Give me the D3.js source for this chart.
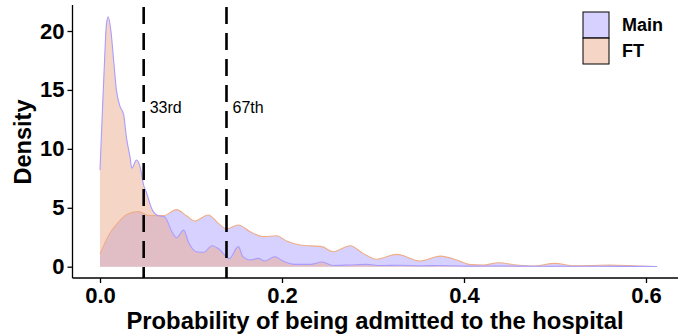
<!DOCTYPE html>
<html>
<head>
<meta charset="utf-8">
<script src="https://cdn.jsdelivr.net/npm/d3@7"></script>
<style>
  body { margin: 0; background: #fff; }
  svg text { font-family: "Liberation Sans", Arial, Helvetica, sans-serif; }
</style>
</head>
<body>
<svg id="density-chart" width="678" height="335"></svg>
<script>
    // density curves (x = probability, y = density)
    let ftX = [0, 0.002, 0.005, 0.007, 0.009, 0.012, 0.015, 0.018, 0.022, 0.026, 0.029, 0.033, 0.035, 0.040,
        0.044, 0.048, 0.051, 0.057, 0.064, 0.071, 0.079, 0.084, 0.092, 0.097, 0.106, 0.114, 0.123, 0.132,
        0.142, 0.152, 0.157, 0.165, 0.174, 0.181, 0.192, 0.201, 0.214, 0.231, 0.244, 0.256, 0.275, 0.293,
        0.308, 0.330, 0.352, 0.374, 0.407, 0.440, 0.484, 0.527, 0.571, 0.612]
    let ftY = [8.2, 12.0, 17.5, 20.5, 21.2, 20.0, 17.5, 15.0, 13.6, 12.9, 11.0, 9.3, 8.35, 9.06,
        8.5, 6.9, 6.3, 4.9, 4.33, 4.24, 2.97, 2.46, 3.1, 2.12, 1.27, 1.22, 1.78, 1.42,
        0.68, 1.7, 0.85, 0.57, 0.71, 0.48, 0.85, 0.48, 0.2, 0.2, 0.4, 0.1, 0.15, 0.2,
        0.1, 0.12, 0.08, 0.1, 0.05, 0.06, 0.04, 0.04, 0.03, 0.02]

    let mainX = [0, 0.011, 0.020, 0.029, 0.042, 0.055, 0.070, 0.084, 0.095, 0.104, 0.119, 0.130, 0.139,
        0.152, 0.165, 0.179, 0.194, 0.205, 0.220, 0.244, 0.256, 0.275, 0.289, 0.304, 0.326, 0.352, 0.374,
        0.392, 0.407, 0.421, 0.438, 0.458, 0.476, 0.500, 0.520, 0.541, 0.560, 0.590, 0.612]
    let mainY = [1.08, 2.86, 3.75, 4.4, 4.67, 4.33, 4.33, 4.84, 4.33, 3.88, 4.39, 3.68, 3.2,
        3.54, 2.97, 2.55, 2.63, 2.18, 1.84, 1.7, 1.27, 1.78, 1.13, 0.63, 1.05, 0.48, 0.9,
        0.57, 0.18, 0.14, 0.34, 0.14, 0.06, 0.28, 0.08, 0.1, 0.14, 0.06, 0.02]

    let percentiles = [0.048, 0.139]
    let percentileLabels = ["33rd", "67th"]
    let legendLabels = ["Main", "FT"]
    let xTicks = [0, 0.2, 0.4, 0.6]
    let yTicks = [0, 5, 10, 15, 20]

    let svg = d3.select("#density-chart")
    let width = 678
    let panel = { left: 72.5, top: 5, bottom: 278 }

    let x = d3.scaleLinear().domain([0, 0.6]).range([100, 646])
    let y = d3.scaleLinear().domain([0, 20]).range([266.7, 31])

    let mainData = mainX.map((d, i) => ({ x: d, y: mainY[i] }))
    let ftData = ftX.map((d, i) => ({ x: d, y: ftY[i] }))

    let area = d3.area()
        .curve(d3.curveMonotoneX)
        .x(d => x(d.x))
        .y0(y(0))
        .y1(d => y(d.y))

    let line = d3.line()
        .curve(d3.curveMonotoneX)
        .x(d => x(d.x))
        .y(d => y(d.y))

    // Main first, FT on top (fill and outline colours are swapped like the original)
    let series = [
        { data: mainData, fill: "#b0a4ff", stroke: "#efae86" },
        { data: ftData, fill: "#ecac8c", stroke: "#a99cff" }
    ]

    series.forEach(s => {
        svg.append("path")
            .datum(s.data)
            .attr("d", area)
            .style("fill", s.fill)
            .style("fill-opacity", 0.5)
        svg.append("path")
            .datum(s.data)
            .attr("d", line)
            .style("fill", "none")
            .style("stroke", s.stroke)
            .style("stroke-width", "1.1px")
    })

    // percentile lines
    svg.selectAll(".pct")
        .data(percentiles)
        .join("line")
        .attr("x1", d => x(d))
        .attr("x2", d => x(d))
        .attr("y1", panel.top + 2)
        .attr("y2", panel.bottom)
        .style("stroke", "black")
        .style("stroke-width", "2.6px")
        .style("stroke-dasharray", "17,9")

    svg.selectAll(".pct-label")
        .data(percentiles)
        .join("text")
        .attr("x", d => x(d) + 6)
        .attr("y", y(13))
        .text((d, i) => percentileLabels[i])
        .style("font-size", "16px")
        .style("fill", "black")

    // axes
    let xAxis = svg.append("g")
        .attr("transform", `translate(0, ${panel.bottom})`)
        .call(d3.axisBottom(x).tickValues(xTicks).tickFormat(d3.format(".1f")).tickSize(5).tickPadding(4))
    let yAxis = svg.append("g")
        .attr("transform", `translate(${panel.left}, 0)`)
        .call(d3.axisLeft(y).tickValues(yTicks).tickSize(5).tickPadding(3))

    ;[xAxis, yAxis].forEach(g => {
        g.select(".domain").remove()
        g.selectAll(".tick line").style("stroke", "black").style("stroke-width", "1.3px")
        g.selectAll(".tick text")
            .style("font-size", "22px")
            .style("font-weight", "bold")
            .style("fill", "black")
            .style("font-family", "Liberation Sans, Arial, sans-serif")
    })

    svg.append("line")
        .attr("x1", panel.left).attr("x2", width)
        .attr("y1", panel.bottom).attr("y2", panel.bottom)
        .style("stroke", "black").style("stroke-width", "1.3px")
    svg.append("line")
        .attr("x1", panel.left).attr("x2", panel.left)
        .attr("y1", panel.top).attr("y2", panel.bottom)
        .style("stroke", "black").style("stroke-width", "1.3px")

    svg.append("text")
        .attr("x", 375)
        .attr("y", 329)
        .attr("text-anchor", "middle")
        .text("Probability of being admitted to the hospital")
        .style("font-size", "23.8px")
        .style("font-weight", "bold")

    svg.append("text")
        .attr("transform", "translate(31, 142) rotate(-90)")
        .attr("text-anchor", "middle")
        .text("Density")
        .style("font-size", "23.5px")
        .style("font-weight", "bold")

    // legend
    let legendColors = ["#b0a4ff", "#ecac8c"]
    let legend = svg.append("g").attr("transform", "translate(583, 12)")
    legend.selectAll("rect")
        .data(legendLabels)
        .join("rect")
        .attr("x", 0)
        .attr("y", (d, i) => i * 26)
        .attr("width", 26)
        .attr("height", 26)
        .style("fill", (d, i) => legendColors[i])
        .style("fill-opacity", 0.5)
        .style("stroke", "black")
        .style("stroke-width", "1px")
    legend.selectAll("text")
        .data(legendLabels)
        .join("text")
        .attr("x", 39)
        .attr("y", (d, i) => i * 26 + 13)
        .attr("dy", "0.36em")
        .text(d => d)
        .style("font-size", "18px")
        .style("font-weight", "bold")
</script>
</body>
</html>
